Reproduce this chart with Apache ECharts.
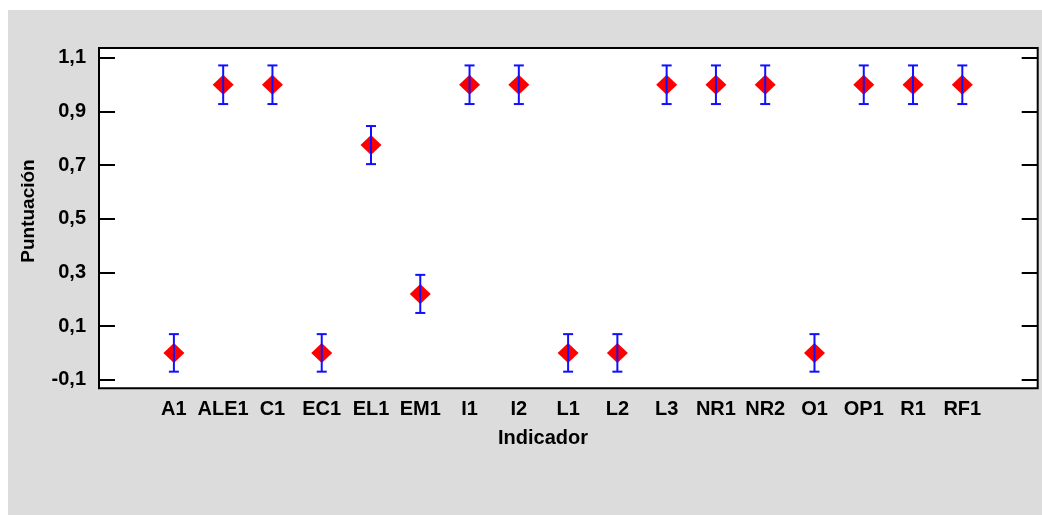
<!DOCTYPE html>
<html>
<head>
<meta charset="utf-8">
<script src="https://cdn.jsdelivr.net/npm/echarts@6/dist/echarts.min.js"></script>
<style>html,body{margin:0;padding:0;background:#fff}#c{width:1042px;height:515px}</style>
</head>
<body>
<div id="c"></div>
<script>
const categories = ['A1','ALE1','C1','EC1','EL1','EM1','I1','I2','L1','L2','L3','NR1','NR2','O1','OP1','R1','RF1'];
const values = [0, 1, 1, 0, 0.775, 0.22, 1, 1, 0, 0, 1, 1, 1, 0, 1, 1, 1];
const lower = [-0.07, 0.928, 0.928, -0.07, 0.704, 0.149, 0.928, 0.928, -0.07, -0.07, 0.928, 0.928, 0.928, -0.07, 0.928, 0.928, 0.928];
const upper = [0.07, 1.072, 1.072, 0.07, 0.846, 0.291, 1.072, 1.072, 0.07, 0.07, 1.072, 1.072, 1.072, 0.07, 1.072, 1.072, 1.072];
const yTicks = [-0.1, 0.1, 0.3, 0.5, 0.7, 0.9, 1.1];

const FONT = '"Liberation Sans", Arial, sans-serif';
const chart = echarts.init(document.getElementById('c'), null, {renderer: 'canvas'});

const points = categories.map((c, i) => [i, values[i]]);
const bars = categories.map((c, i) => [i, lower[i], upper[i]]);
const xIdx = categories.map((c, i) => i);

const yAxisBase = {
  type: 'value', min: -0.132, max: 1.137,
  splitLine: {show: false},
  axisLine: {show: false, onZero: false},
  axisTick: {show: true, inside: true, length: 16, customValues: yTicks, lineStyle: {color: '#000', width: 2}},
};

chart.setOption({
  backgroundColor: '#ffffff',
  animation: false,
  graphic: [
    {type: 'rect', z: -10, shape: {x: 8, y: 10, width: 1034, height: 505}, style: {fill: '#dcdcdc'}},
    {type: 'text', x: 543, y: 438, style: {text: 'Indicador', font: 'bold 20px ' + FONT, fill: '#000', align: 'center', verticalAlign: 'middle'}},
    {type: 'text', x: 29, y: 211, rotation: Math.PI / 2, style: {text: 'Puntuación', font: 'bold 19px ' + FONT, fill: '#000', align: 'center', verticalAlign: 'middle'}}
  ],
  grid: {left: 99, top: 48, right: 4.3, bottom: 126.7, show: true, backgroundColor: '#fff', borderColor: '#000', borderWidth: 2},
  xAxis: {
    type: 'value', min: -1.52, max: 17.53,
    splitLine: {show: false},
    axisLine: {show: false, onZero: false},
    axisTick: {show: false},
    axisLabel: {
      customValues: xIdx,
      margin: 11,
      color: '#000', fontFamily: FONT, fontWeight: 'bold', fontSize: 20,
      formatter: v => categories[Math.round(v)]
    }
  },
  yAxis: [
    Object.assign({}, yAxisBase, {
      position: 'left',
      axisLabel: {
        customValues: yTicks, margin: 13,
        color: '#000', fontFamily: FONT, fontWeight: 'bold', fontSize: 20,
        formatter: v => v.toFixed(1).replace('.', ',')
      }
    }),
    Object.assign({}, yAxisBase, {position: 'right', axisLabel: {show: false}})
  ],
  series: [
    {
      type: 'scatter', data: points, symbol: 'diamond', symbolSize: [21, 20],
      itemStyle: {color: '#ff0000', opacity: 1}, z: 2
    },
    {
      type: 'custom', data: bars, z: 3,
      renderItem: function (params, api) {
        const x = api.value(0);
        const lo = api.coord([x, api.value(1)]);
        const hi = api.coord([x, api.value(2)]);
        const hw = 5;
        const style = {stroke: '#1010ff', lineWidth: 2};
        return {type: 'group', children: [
          {type: 'line', shape: {x1: lo[0], y1: lo[1], x2: hi[0], y2: hi[1]}, style: style},
          {type: 'line', shape: {x1: lo[0] - hw, y1: lo[1], x2: lo[0] + hw, y2: lo[1]}, style: style},
          {type: 'line', shape: {x1: hi[0] - hw, y1: hi[1], x2: hi[0] + hw, y2: hi[1]}, style: style}
        ]};
      }
    }
  ]
});
</script>
</body>
</html>
